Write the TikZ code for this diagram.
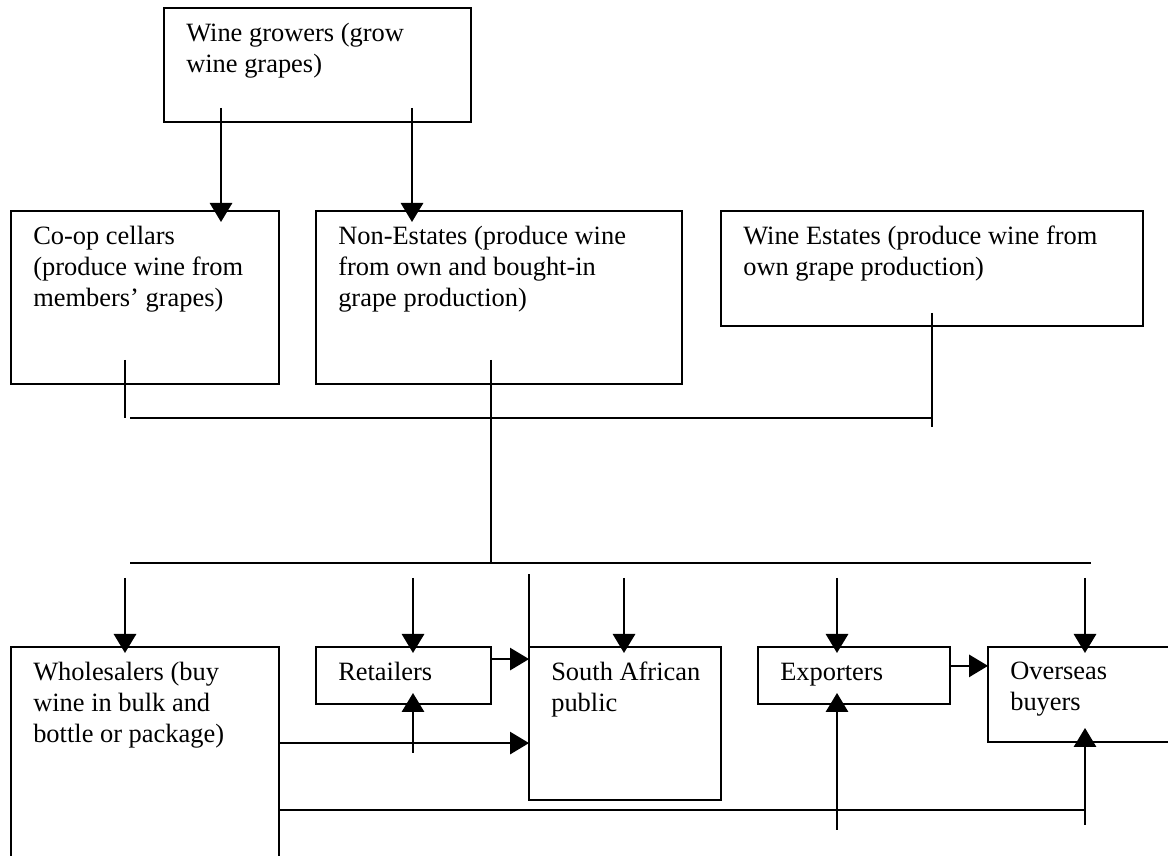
\documentclass[tikz,border=0pt]{standalone}
\usepackage{fontspec}
\setmainfont{Liberation Serif}
\usepackage{tikz}
\usetikzlibrary{arrows.meta, positioning, calc}

\begin{document}
\begin{tikzpicture}[
    box/.style={rectangle, draw=black, line width=1.2pt, inner sep=0pt,
                outer sep=0pt},
    txt/.style={anchor=north west, align=left, inner sep=0pt,
                font=\fontsize{18.8}{22.4}\selectfont},
    arrow/.style={-{Triangle[length=0.475cm, width=0.56cm]}, line width=1.2pt},
    link/.style={line width=1.2pt}
  ]
    \useasboundingbox (0,0) rectangle (29.2,21.4);
    \clip (0,0) rectangle (29.2,21.4);

    % Growers and cellars
    \node[box, minimum width=7.675cm, minimum height=2.85cm] (growers) at (7.9375, 19.775) {};
    \node[box, minimum width=6.7cm, minimum height=4.325cm] (coop) at (3.625, 13.9625) {};
    \node[box, minimum width=9.15cm, minimum height=4.325cm] (nonest) at (12.475, 13.9625) {};
    \node[box, minimum width=10.55cm, minimum height=2.875cm] (estates) at (23.3, 14.6875) {};

    % Buyers
    \node[box, minimum width=6.7cm, minimum height=6.325cm] (whole) at (3.625, 2.0625) {};
    \node[box, minimum width=4.375cm, minimum height=1.425cm] (retail) at (10.0875, 4.5125) {};
    \node[box, minimum width=4.8cm, minimum height=3.825cm] (sapub) at (15.625, 3.3125) {};
    \node[box, minimum width=4.8cm, minimum height=1.425cm] (export) at (21.35, 4.5125) {};
    \node[box, minimum width=5.3cm, minimum height=2.375cm] (overseas) at (27.35, 4.0375) {};

    % Texts
    \node[txt] (growers-t) at ([shift={(0.55,-0.36)}]growers.north west)
      {Wine growers (grow\\wine grapes)};
    \node[txt] (coop-t) at ([shift={(0.55,-0.36)}]coop.north west)
      {Co-op cellars\\(produce wine from\\members’ grapes)};
    \node[txt] (nonest-t) at ([shift={(0.55,-0.36)}]nonest.north west)
      {Non-Estates (produce wine\\from own and bought-in\\grape production)};
    \node[txt] (estates-t) at ([shift={(0.55,-0.36)}]estates.north west)
      {Wine Estates (produce wine from\\own grape production)};
    \node[txt] (whole-t) at ([shift={(0.55,-0.36)}]whole.north west)
      {Wholesalers (buy\\wine in bulk and\\bottle or package)};
    \node[txt] (retail-t) at ([shift={(0.55,-0.36)}]retail.north west) {Retailers};
    \node[txt] (sapub-t) at ([shift={(0.55,-0.36)}]sapub.north west)
      {South African\\public};
    \node[txt] (export-t) at ([shift={(0.55,-0.39)}]export.north west) {Exporters};
    \node[txt] (overseas-t) at ([shift={(0.55,-0.36)}]overseas.north west)
      {Overseas\\buyers};

    % Grapes to cellars
    \coordinate (g1) at (5.525, 18.7);
    \coordinate (g2) at (10.3, 18.7);
    \draw[arrow, shorten >=-0.275cm] (g1) -- (coop.north -| g1);
    \draw[arrow, shorten >=-0.275cm] (g2) -- (nonest.north -| g2);

    % Collecting the wine
    \coordinate (c1) at (3.125, 12.4);
    \coordinate (c1-end) at (3.125, 10.95);
    \coordinate (bus-l) at (3.25, 10.95);
    \coordinate (bus-r) at (23.3, 10.95);
    \coordinate (e1) at (23.3, 13.575);
    \coordinate (e1-end) at (23.3, 10.725);
    \coordinate (trunk) at (12.275, 12.4);
    \coordinate (trunk-end) at (12.275, 7.325);
    \coordinate (dist-l) at (3.25, 7.325);
    \coordinate (dist-r) at (27.275, 7.325);
    \draw[link] (c1) -- (c1-end);
    \draw[link] (bus-l) -- (bus-r);
    \draw[link] (e1) -- (e1-end);
    \draw[link] (trunk) -- (trunk-end);
    \draw[link] (dist-l) -- (dist-r);

    % Down to the buyers
    \foreach \x/\b in {3.125/whole, 10.325/retail, 15.6/sapub, 20.925/export, 27.125/overseas} {
      \coordinate (in-\b) at (\x, 6.95);
      \draw[arrow, shorten >=-0.15cm] (in-\b) -- (\b.north -| in-\b);
    }
    \coordinate (sa-top) at ([yshift=1.825cm]sapub.north west);
    \draw[link] (sapub.north west) -- (sa-top);

    % Between the buyers
    \coordinate (rs) at ([yshift=0.41cm]retail.east);
    \draw[arrow] (rs) -- (rs -| sapub.west);
    \coordinate (ws) at ([yshift=-0.49cm]sapub.west);
    \draw[arrow] (whole.east |- ws) -- (ws);
    \coordinate (eo) at ([yshift=0.24cm]export.east);
    \draw[arrow] (eo) -- (eo -| overseas.west);

    % Bottom line
    \coordinate (bus-b) at (27.125, 1.15);
    \draw[link] (whole.east |- bus-b) -- (bus-b);
    \coordinate (up-retail) at (10.325, 2.575);
    \coordinate (up-export) at (20.925, 0.65);
    \coordinate (up-overseas) at (27.125, 0.775);
    \draw[arrow, shorten >=-0.275cm] (up-retail) -- (retail.south -| up-retail);
    \draw[arrow, shorten >=-0.275cm] (up-export) -- (export.south -| up-export);
    \draw[arrow, shorten >=-0.35cm] (up-overseas) -- (overseas.south -| up-overseas);
  \end{tikzpicture}
\end{document}
